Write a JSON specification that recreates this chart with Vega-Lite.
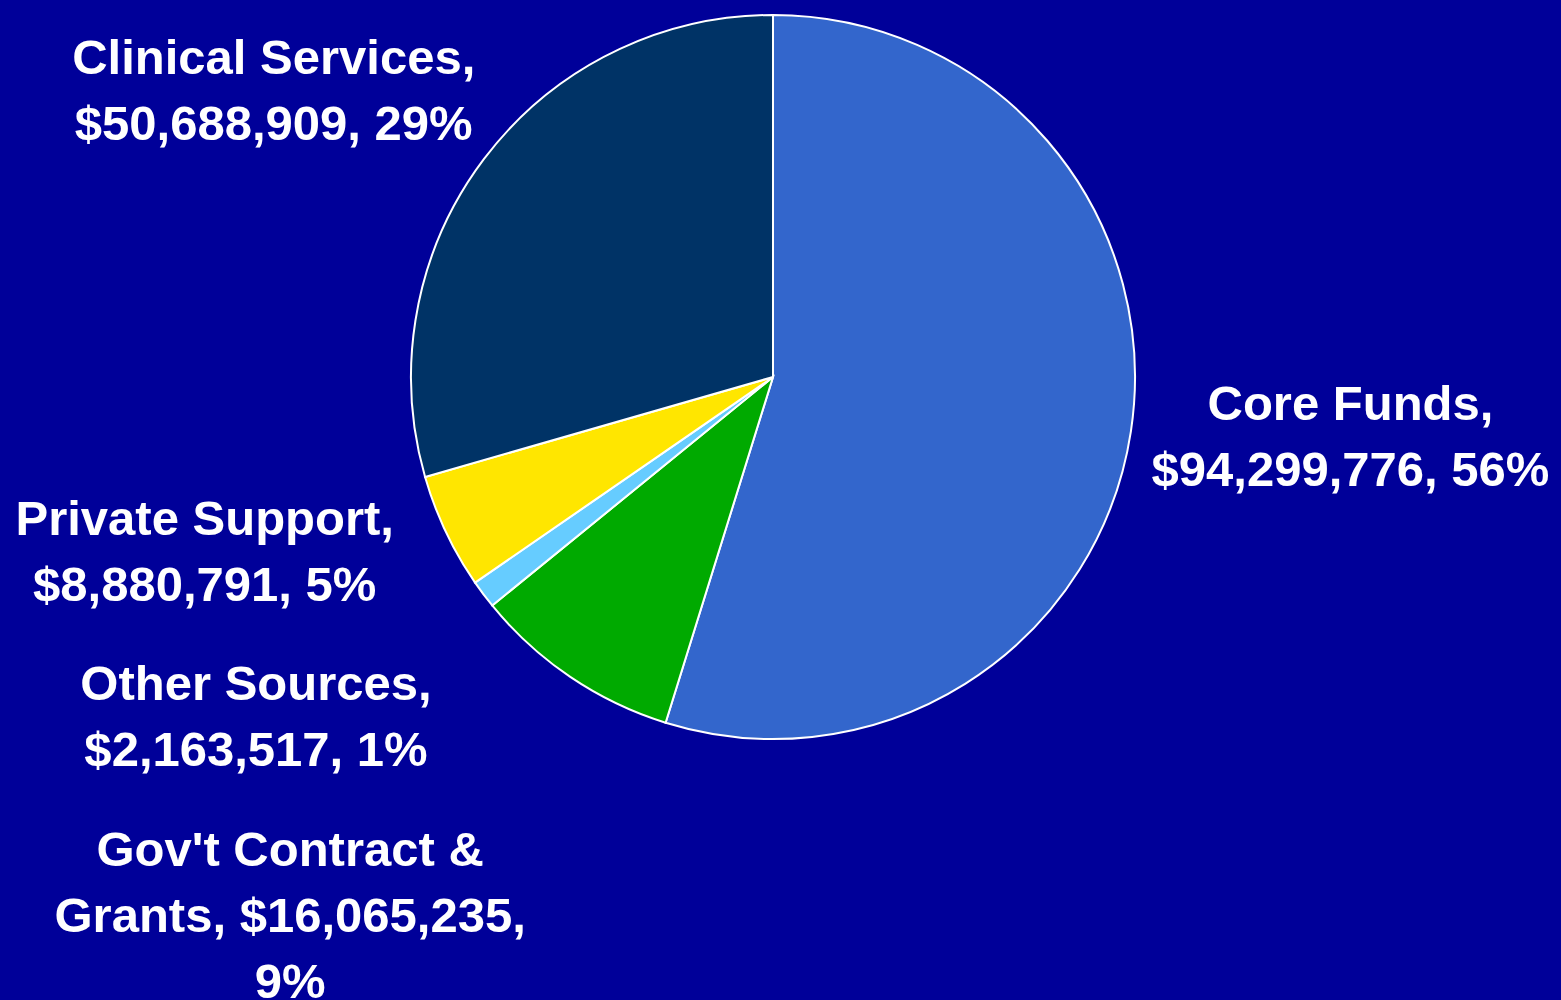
{
  "$schema": "https://vega.github.io/schema/vega-lite/v6.json",
  "width": 1546,
  "height": 754,
  "autosize": {"type": "none"},
  "padding": {"left": 0, "top": 0, "right": 15, "bottom": 246},
  "background": "#000099",
  "config": {"view": {"stroke": null}},
  "data": {
    "values": [
      {"idx": 1, "source": "Core Funds", "amount": 94299776, "label": "Core Funds,\n$94,299,776, 56%"},
      {"idx": 2, "source": "Gov't Contract & Grants", "amount": 16065235, "label": "Gov't Contract &\nGrants, $16,065,235,\n9%"},
      {"idx": 3, "source": "Other Sources", "amount": 2163517, "label": "Other Sources,\n$2,163,517, 1%"},
      {"idx": 4, "source": "Private Support", "amount": 8880791, "label": "Private Support,\n$8,880,791, 5%"},
      {"idx": 5, "source": "Clinical Services", "amount": 50688909, "label": "Clinical Services,\n$50,688,909, 29%"}
    ]
  },
  "encoding": {
    "theta": {"field": "amount", "type": "quantitative", "stack": true},
    "order": {"field": "idx", "type": "quantitative"}
  },
  "layer": [
    {
      "mark": {"type": "arc", "outerRadius": 362, "stroke": "white", "strokeWidth": 2},
      "encoding": {
        "color": {
          "field": "source",
          "type": "nominal",
          "scale": {
            "domain": ["Core Funds", "Gov't Contract & Grants", "Other Sources", "Private Support", "Clinical Services"],
            "range": ["#3366CC", "#00AA00", "#66CCFF", "#FFE600", "#003366"]
          },
          "legend": null
        }
      }
    },
    {
      "mark": {"type": "text", "radius": 580, "dx": 4, "dy": -59, "lineBreak": "\n", "font": "Liberation Sans", "fontWeight": "bold", "fontSize": 49, "lineHeight": 66, "color": "white", "align": "center", "baseline": "middle"},
      "encoding": {"text": {"condition": {"test": "datum.source === 'Core Funds'", "field": "label"}, "value": ""}}
    },
    {
      "mark": {"type": "text", "radius": 580, "dx": -158, "dy": -6, "lineBreak": "\n", "font": "Liberation Sans", "fontWeight": "bold", "fontSize": 49, "lineHeight": 66, "color": "white", "align": "center", "baseline": "middle"},
      "encoding": {"text": {"condition": {"test": "datum.source === \"Gov't Contract & Grants\"", "field": "label"}, "value": ""}}
    },
    {
      "mark": {"type": "text", "radius": 580, "dx": -53, "dy": -40, "lineBreak": "\n", "font": "Liberation Sans", "fontWeight": "bold", "fontSize": 49, "lineHeight": 66, "color": "white", "align": "center", "baseline": "middle"},
      "encoding": {"text": {"condition": {"test": "datum.source === 'Other Sources'", "field": "label"}, "value": ""}}
    },
    {
      "mark": {"type": "text", "radius": 580, "dx": -44, "dy": -105, "lineBreak": "\n", "font": "Liberation Sans", "fontWeight": "bold", "fontSize": 49, "lineHeight": 66, "color": "white", "align": "center", "baseline": "middle"},
      "encoding": {"text": {"condition": {"test": "datum.source === 'Private Support'", "field": "label"}, "value": ""}}
    },
    {
      "mark": {"type": "text", "radius": 580, "dx": -36, "dy": 31, "lineBreak": "\n", "font": "Liberation Sans", "fontWeight": "bold", "fontSize": 49, "lineHeight": 66, "color": "white", "align": "center", "baseline": "middle"},
      "encoding": {"text": {"condition": {"test": "datum.source === 'Clinical Services'", "field": "label"}, "value": ""}}
    }
  ]
}
